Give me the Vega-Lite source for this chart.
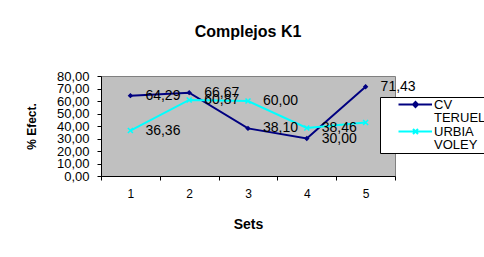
{
  "$schema": "https://vega.github.io/schema/vega-lite/v6.json",
  "width": 294,
  "height": 100,
  "autosize": {"type": "none"},
  "padding": {"left": 101, "top": 76, "right": 89, "bottom": 81},
  "background": "white",
  "title": {"text": "Complejos K1", "fontSize": 16, "font": "Liberation Sans", "fontWeight": "bold", "anchor": "middle", "offset": 30, "color": "black"},
  "config": {
    "view": {"fill": "#C0C0C0", "stroke": "#808080", "strokeWidth": 1},
    "font": "Liberation Sans",
    "locale": {"number": {"decimal": ",", "thousands": ".", "grouping": [3], "currency": ["", " €"]}}
  },
  "data": {"values": [
    {"set": 1, "serie": "CV TERUEL", "value": 64.29, "label": "64,29"},
    {"set": 2, "serie": "CV TERUEL", "value": 66.67, "label": "66,67"},
    {"set": 3, "serie": "CV TERUEL", "value": 38.10, "label": "38,10"},
    {"set": 4, "serie": "CV TERUEL", "value": 30.00, "label": "30,00"},
    {"set": 5, "serie": "CV TERUEL", "value": 71.43, "label": "71,43"},
    {"set": 1, "serie": "URBIA VOLEY", "value": 36.36, "label": "36,36"},
    {"set": 2, "serie": "URBIA VOLEY", "value": 60.87, "label": "60,87"},
    {"set": 3, "serie": "URBIA VOLEY", "value": 60.00, "label": "60,00"},
    {"set": 4, "serie": "URBIA VOLEY", "value": 38.46, "label": "38,46"},
    {"set": 5, "serie": "URBIA VOLEY", "value": 42.86, "label": null}
  ]},
  "encoding": {
    "x": {
      "field": "set", "type": "ordinal",
      "scale": {"type": "band", "paddingInner": 0, "paddingOuter": 0},
      "axis": {"title": "Sets", "titleFontSize": 14, "titleFontWeight": "bold", "titlePadding": 18, "titleColor": "black",
               "labelAngle": 0, "labelFontSize": 12, "labelPadding": 8, "labelColor": "black",
               "tickBand": "extent", "tickSize": 4, "tickColor": "black", "domainColor": "black", "grid": false}
    },
    "y": {
      "field": "value", "type": "quantitative",
      "scale": {"domain": [0, 80]},
      "axis": {"values": [0, 10, 20, 30, 40, 50, 60, 70, 80], "format": ".2f", "grid": false, "labelOverlap": false,
               "domainColor": "black", "tickColor": "black", "tickSize": 4,
               "labelFontSize": 13, "labelColor": "black", "labelPadding": 8,
               "title": "% Efect.", "titleFontSize": 12, "titleFontWeight": "bold", "titlePadding": 18, "titleColor": "black"}
    }
  },
  "layer": [
    {
      "mark": {"type": "line", "strokeWidth": 2},
      "encoding": {
        "color": {
          "field": "serie", "type": "nominal",
          "scale": {"domain": ["CV TERUEL", "URBIA VOLEY"], "range": ["#000080", "#00FFFF"]},
          "legend": {"title": null, "orient": "none", "legendX": 279, "legendY": 21,
                     "symbolSize": 100, "symbolStrokeWidth": 2,
                     "labelFontSize": 13, "labelFont": "Liberation Sans", "labelColor": "black",
                     "labelExpr": "split(datum.label, ' ')", "labelOffset": 40, "rowPadding": 0,
                     "strokeColor": "black", "fillColor": "white", "padding": 1,
                     "encode": {
                       "symbols": {"update": {
                         "shape": {"signal": "datum.value == 'CV TERUEL' ? 'M2.2,0H8.9M5.6,-0.5L6.1,0L5.6,0.5L5.1,0Z' : 'M2.2,0H8.9M5.1,-0.5L6.1,0.5M5.1,0.5L6.1,-0.5'"},
                         "size": {"value": 100},
                         "fill": {"scale": "color", "field": "value"},
                         "stroke": {"scale": "color", "field": "value"},
                         "strokeWidth": {"value": 2},
                         "opacity": {"value": 1}
                       }},
                       "labels": {"update": {"lineHeight": {"value": 13}}}
                     }}
        }
      }
    },
    {
      "mark": {"type": "point", "filled": true, "strokeWidth": 1.5, "opacity": 1, "size": 100},
      "encoding": {
        "fill": {"condition": {"test": "datum.serie == 'CV TERUEL'", "value": "#000080"}, "value": "#00FFFF"},
        "stroke": {"condition": {"test": "datum.serie == 'CV TERUEL'", "value": "#000080"}, "value": "#00FFFF"},
        "shape": {"condition": {"test": "datum.serie == 'CV TERUEL'", "value": "M0,-0.33L0.33,0L0,0.33L-0.33,0Z"}, "value": "M-0.5,-0.5L0.5,0.5M-0.5,0.5L0.5,-0.5"}
      }
    },
    {
      "transform": [{"filter": "datum.label != null"}],
      "mark": {"type": "text", "align": "left", "baseline": "middle", "dx": 15, "fontSize": 14, "color": "black"},
      "encoding": {"text": {"field": "label"}}
    }
  ]
}
